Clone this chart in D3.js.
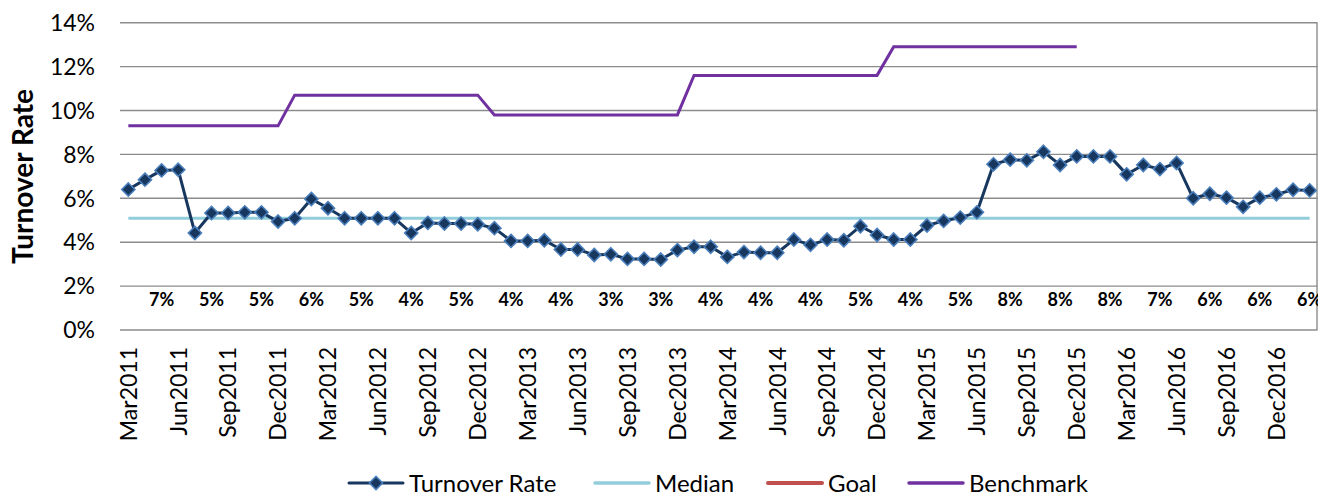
<!DOCTYPE html>
<html>
<head>
<meta charset="utf-8">
<script src="https://cdn.jsdelivr.net/npm/d3@7"></script>
<style>
  html, body { margin: 0; padding: 0; background: #fff; }
  svg { display: block; font-family: Lato, "Open Sans", sans-serif; }
</style>
</head>
<body>
<svg id="chart" width="1318" height="494"></svg>
<script>
const months = [
  "Mar2011","Apr2011","May2011","Jun2011","Jul2011","Aug2011","Sep2011","Oct2011","Nov2011","Dec2011",
  "Jan2012","Feb2012","Mar2012","Apr2012","May2012","Jun2012","Jul2012","Aug2012","Sep2012","Oct2012","Nov2012","Dec2012",
  "Jan2013","Feb2013","Mar2013","Apr2013","May2013","Jun2013","Jul2013","Aug2013","Sep2013","Oct2013","Nov2013","Dec2013",
  "Jan2014","Feb2014","Mar2014","Apr2014","May2014","Jun2014","Jul2014","Aug2014","Sep2014","Oct2014","Nov2014","Dec2014",
  "Jan2015","Feb2015","Mar2015","Apr2015","May2015","Jun2015","Jul2015","Aug2015","Sep2015","Oct2015","Nov2015","Dec2015",
  "Jan2016","Feb2016","Mar2016","Apr2016","May2016","Jun2016","Jul2016","Aug2016","Sep2016","Oct2016","Nov2016","Dec2016",
  "Jan2017","Feb2017"
];
const tickMonths = ["Mar2011","Jun2011","Sep2011","Dec2011","Mar2012","Jun2012","Sep2012","Dec2012",
  "Mar2013","Jun2013","Sep2013","Dec2013","Mar2014","Jun2014","Sep2014","Dec2014",
  "Mar2015","Jun2015","Sep2015","Dec2015","Mar2016","Jun2016","Sep2016","Dec2016"];
const turnover = [
  6.40,6.85,7.27,7.30,4.42,5.33,5.33,5.36,5.36,4.94,
  5.09,5.97,5.55,5.09,5.09,5.09,5.09,4.42,4.88,4.85,4.85,4.82,
  4.64,4.06,4.06,4.09,3.67,3.67,3.42,3.45,3.24,3.24,3.21,3.64,
  3.79,3.79,3.33,3.55,3.52,3.52,4.12,3.88,4.12,4.09,4.73,4.33,
  4.12,4.12,4.76,4.97,5.12,5.36,7.55,7.76,7.73,8.12,7.52,7.91,
  7.91,7.91,7.09,7.52,7.33,7.61,6.00,6.21,6.03,5.61,6.03,6.18,
  6.39,6.36
];
const medianValue = 5.09;
const benchmark = [
  9.3,9.3,9.3,9.3,9.3,9.3,9.3,9.3,9.3,9.3,
  10.7,10.7,10.7,10.7,10.7,10.7,10.7,10.7,10.7,10.7,10.7,10.7,
  9.8,9.8,9.8,9.8,9.8,9.8,9.8,9.8,9.8,9.8,9.8,9.8,
  11.6,11.6,11.6,11.6,11.6,11.6,11.6,11.6,11.6,11.6,11.6,11.6,
  12.9,12.9,12.9,12.9,12.9,12.9,12.9,12.9,12.9,12.9,12.9,12.9,
  null,null,null,null,null,null,null,null,null,null,null,null,null,null
];
const goal = months.map(() => null);
// quarterly labels shown at the third month of each quarter
const quarterMonths = ["May2011","Aug2011","Nov2011","Feb2012","May2012","Aug2012","Nov2012","Feb2013",
  "May2013","Aug2013","Nov2013","Feb2014","May2014","Aug2014","Nov2014","Feb2015",
  "May2015","Aug2015","Nov2015","Feb2016","May2016","Aug2016","Nov2016","Feb2017"];
const quarterLabels = ["7%","5%","5%","6%","5%","4%","5%","4%","4%","3%","3%","4%",
  "4%","4%","5%","4%","5%","8%","8%","8%","7%","6%","6%","6%"];
const yTicks = [0,2,4,6,8,10,12,14];

const svg = d3.select("#chart");
const plotL = 120, plotR = 1318, plotT = 22.7, plotB = 330;
const x = d3.scaleBand().domain(months).range([plotL, plotR]);
const cx = m => x(m) + x.bandwidth() / 2;
const y = d3.scaleLinear().domain([0, 14]).range([plotB, plotT]);

// gridlines
svg.append("g").selectAll("line").data(yTicks).join("line")
  .attr("x1", plotL).attr("x2", plotR - 0.5)
  .attr("y1", d => y(d)).attr("y2", d => y(d))
  .attr("stroke", "#8c8c8c").attr("stroke-width", 1.4);
svg.append("line").attr("x1", plotR - 1).attr("x2", plotR - 1)
  .attr("y1", y(14)).attr("y2", y(0)).attr("stroke", "#8c8c8c").attr("stroke-width", 1.4);

// y tick labels
svg.append("g").selectAll("text").data(yTicks).join("text")
  .attr("x", 95).attr("y", d => y(d)).attr("dy", "0.36em")
  .attr("text-anchor", "end").attr("font-size", 23).attr("fill", "#000")
  .text(d => d + "%");

// y title
svg.append("text").attr("transform", "translate(23,176.5) rotate(-90)")
  .attr("dy", "0.36em").attr("text-anchor", "middle")
  .attr("font-size", 28).attr("font-weight", "bold").text("Turnover Rate");

// x tick labels
svg.append("g").selectAll("text").data(tickMonths).join("text")
  .attr("transform", d => `translate(${cx(d)},347) rotate(-90)`)
  .attr("dy", "0.36em").attr("text-anchor", "end")
  .attr("font-size", 23).text(d => d);

// quarterly labels
svg.append("g").selectAll("text").data(quarterMonths).join("text")
  .attr("x", d => cx(d)).attr("y", 306).attr("text-anchor", "middle")
  .attr("font-size", 18).attr("font-weight", "bold").text((d, i) => quarterLabels[i]);

// median
const lineGen = d3.line().defined(d => d.v != null).x(d => cx(d.m)).y(d => y(d.v));
svg.append("path").datum(months.map(m => ({m, v: medianValue})))
  .attr("d", lineGen).attr("fill", "none").attr("stroke", "#92CDDC").attr("stroke-width", 3);

// goal (no data)
svg.append("path").datum(months.map((m, i) => ({m, v: goal[i]})))
  .attr("d", lineGen).attr("fill", "none").attr("stroke", "#C0504D").attr("stroke-width", 3.5);

// benchmark
svg.append("path").datum(months.map((m, i) => ({m, v: benchmark[i]})))
  .attr("d", lineGen).attr("fill", "none").attr("stroke", "#7030A0").attr("stroke-width", 3);

// turnover
svg.append("path").datum(months.map((m, i) => ({m, v: turnover[i]})))
  .attr("d", lineGen).attr("fill", "none").attr("stroke", "#17375E").attr("stroke-width", 3)
  .attr("stroke-linejoin", "round");
const diamond = d3.symbol().type(d3.symbolDiamond2).size(110);
svg.append("g").selectAll("path").data(turnover).join("path")
  .attr("transform", (d, i) => `translate(${cx(months[i])},${y(d)})`)
  .attr("d", diamond).attr("fill", "#17375E").attr("stroke", "#4A7EBB").attr("stroke-width", 1.6);

// legend
const legY = 483;
const legend = [
  {name: "Turnover Rate", color: "#17375E", w: 3, marker: true, x0: 349},
  {name: "Median", color: "#92CDDC", w: 3.5, x0: 595},
  {name: "Goal", color: "#C0504D", w: 4, x0: 768},
  {name: "Benchmark", color: "#7030A0", w: 3.5, x0: 909}
];
const lg = svg.append("g").selectAll("g").data(legend).join("g");
lg.append("line").attr("x1", d => d.x0).attr("x2", d => d.x0 + 54)
  .attr("y1", legY).attr("y2", legY).attr("stroke", d => d.color).attr("stroke-width", d => d.w)
  .attr("stroke-linecap", "round");
lg.filter(d => d.marker).append("path")
  .attr("transform", d => `translate(${d.x0 + 27},${legY})`)
  .attr("d", diamond).attr("fill", "#17375E").attr("stroke", "#4A7EBB").attr("stroke-width", 1.6);
lg.append("text").attr("x", d => d.x0 + 60).attr("y", legY).attr("dy", "0.36em")
  .attr("font-size", 24).text(d => d.name);
</script>
</body>
</html>
